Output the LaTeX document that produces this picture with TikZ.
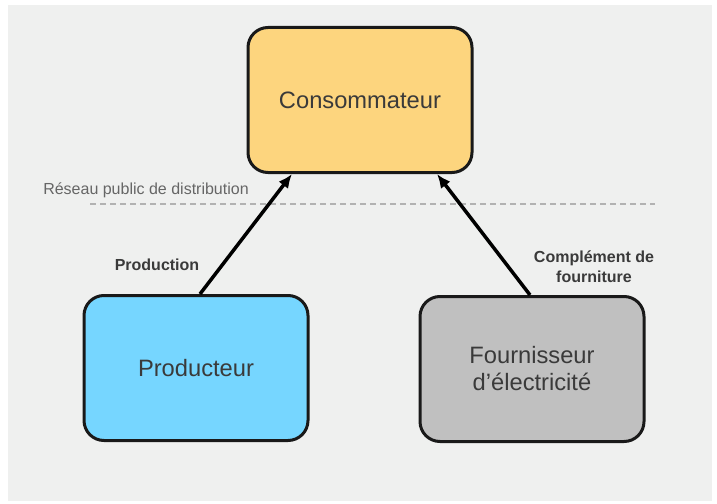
\documentclass[tikz,border=0pt]{standalone}
\usepackage{fontspec}
\setmainfont{Liberation Sans}
\usepackage{xcolor}
\usepackage{tikz}
\usetikzlibrary{arrows.meta, positioning}

\definecolor{bgGray}{HTML}{EFF0EF}
\definecolor{consYellow}{HTML}{FDD57E}
\definecolor{prodBlue}{HTML}{76D6FF}
\definecolor{fourGray}{HTML}{C0C0C0}
\definecolor{txtDark}{HTML}{3A3A3A}

\begin{document}
\begin{tikzpicture}[
  x=1pt, y=1pt,
  every node/.style={font=\fontsize{16}{20}\selectfont, text=txtDark},
  box/.style={rectangle, draw=black!90, line width=3pt, rounded corners=20pt, minimum width=224pt, minimum height=145pt, align=center, font=\fontsize{23.7}{27}\selectfont},
  lbl/.style={font=\fontsize{16}{20}\selectfont\bfseries, align=center},
  arr/.style={-{Latex[length=14pt, width=12pt]}, line width=3.5pt},
  net/.style={draw=gray!60, line width=1.8pt, dash pattern=on 6pt off 4pt}
]

% Background
\useasboundingbox (0,0) rectangle (717,-503);
\fill[white] (0,0) rectangle (717,-503);
\fill[bgGray] (8,-5) rectangle (712,-501);

% Nodes
\node[box, fill=consYellow] (cons) at (360,-100) {Consommateur};
\node[box, fill=prodBlue] (prod) at (196,-368) {Producteur};
\node[box, fill=fourGray] (four) at (532,-369) {Fournisseur\\d'électricité};

% Distribution network
\coordinate (netL) at (90,-204);
\coordinate (netR) at (655,-204);
\draw[net] (netL) -- (netR);
\node[text=black!60] (net) at (146,-190) {Réseau public de distribution};

% Edges
\draw[arr] ([xshift=4pt]prod.north) -- ([xshift=-68pt]cons.south);
\draw[arr] ([xshift=-2pt]four.north) -- ([xshift=77pt]cons.south);

% Edge labels
\node[lbl] (prodlbl) at (157,-265) {Production};
\node[lbl] (fourlbl) at (594,-267) {Complément de\\fourniture};

\end{tikzpicture}
\end{document}
